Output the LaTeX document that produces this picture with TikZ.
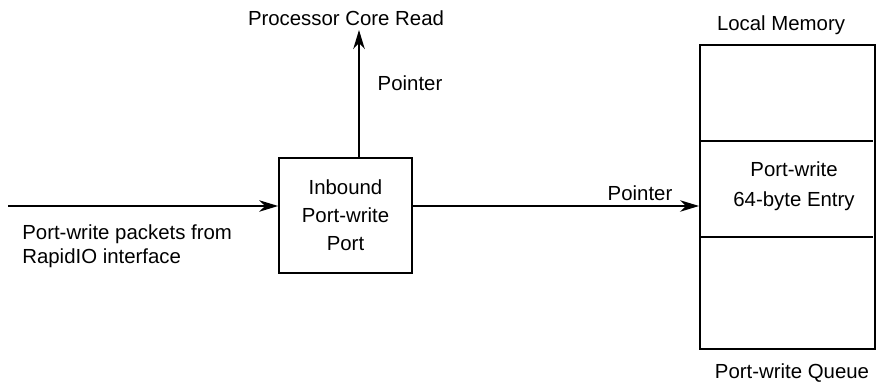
\documentclass[tikz,border=0pt]{standalone}
\usepackage{fontspec}
\setmainfont{Liberation Sans}
\usetikzlibrary{arrows.meta, positioning, calc}

\begin{document}
\begin{tikzpicture}[
				portbox/.style={rectangle, draw=black, line width=1pt, minimum width=2.66cm, minimum height=2.3cm, align=center, font=\fontsize{11.6}{16}\selectfont},
				queuebox/.style={rectangle, draw=black, line width=1.1pt, minimum width=3.5cm, minimum height=6.08cm},
				txt/.style={inner sep=0pt, align=center, font=\fontsize{11.6}{13.5}\selectfont},
				flow/.style={line width=0.85pt, -{Stealth[length=3.8mm, width=2.3mm, inset=1.2mm]}}
				]
				\useasboundingbox (0,0) rectangle (17.76,7.74);
				
				% Inbound port and local memory queue
				\node[portbox] (inport) at (6.91, 3.43) {Inbound\\Port-write\\Port};
				\node[queuebox] (memq) at (15.75, 3.80) {};
				\draw[line width=0.85pt] (14.0, 4.92) -- (17.46, 4.92);
				\draw[line width=0.85pt] (14.0, 3.00) -- (17.46, 3.00);
				\node[txt, font=\fontsize{11.6}{17}\selectfont] (entry) at (15.88, 4.02) {Port-write\\64-byte Entry};
				
				% Labels
				\node[txt] (lbl_core) at (6.92, 7.38) {Processor Core Read};
				\node[txt] (lbl_ptr_up) at (8.20, 6.08) {Pointer};
				\node[txt] (lbl_ptr_right) at (12.80, 3.88) {Pointer};
				\node[txt] (lbl_mem) at (15.62, 7.24) {Local Memory};
				\node[txt] (lbl_queue) at (15.84, 0.28) {Port-write Queue};
				\node[txt, anchor=west, align=left] (lbl_rio) at (0.44, 2.82) {Port-write packets from\\RapidIO interface};
				
				% Connectors
				\coordinate (rio) at (0.16, 3.62);
				\coordinate (core) at (7.18, 7.14);
				\draw[flow] (rio) -- (rio -| inport.west);
				\draw[flow] (inport.north -| core) -- (core);
				\draw[flow] (inport.east |- rio) -- (memq.west |- rio);
			\end{tikzpicture}
\end{document}
